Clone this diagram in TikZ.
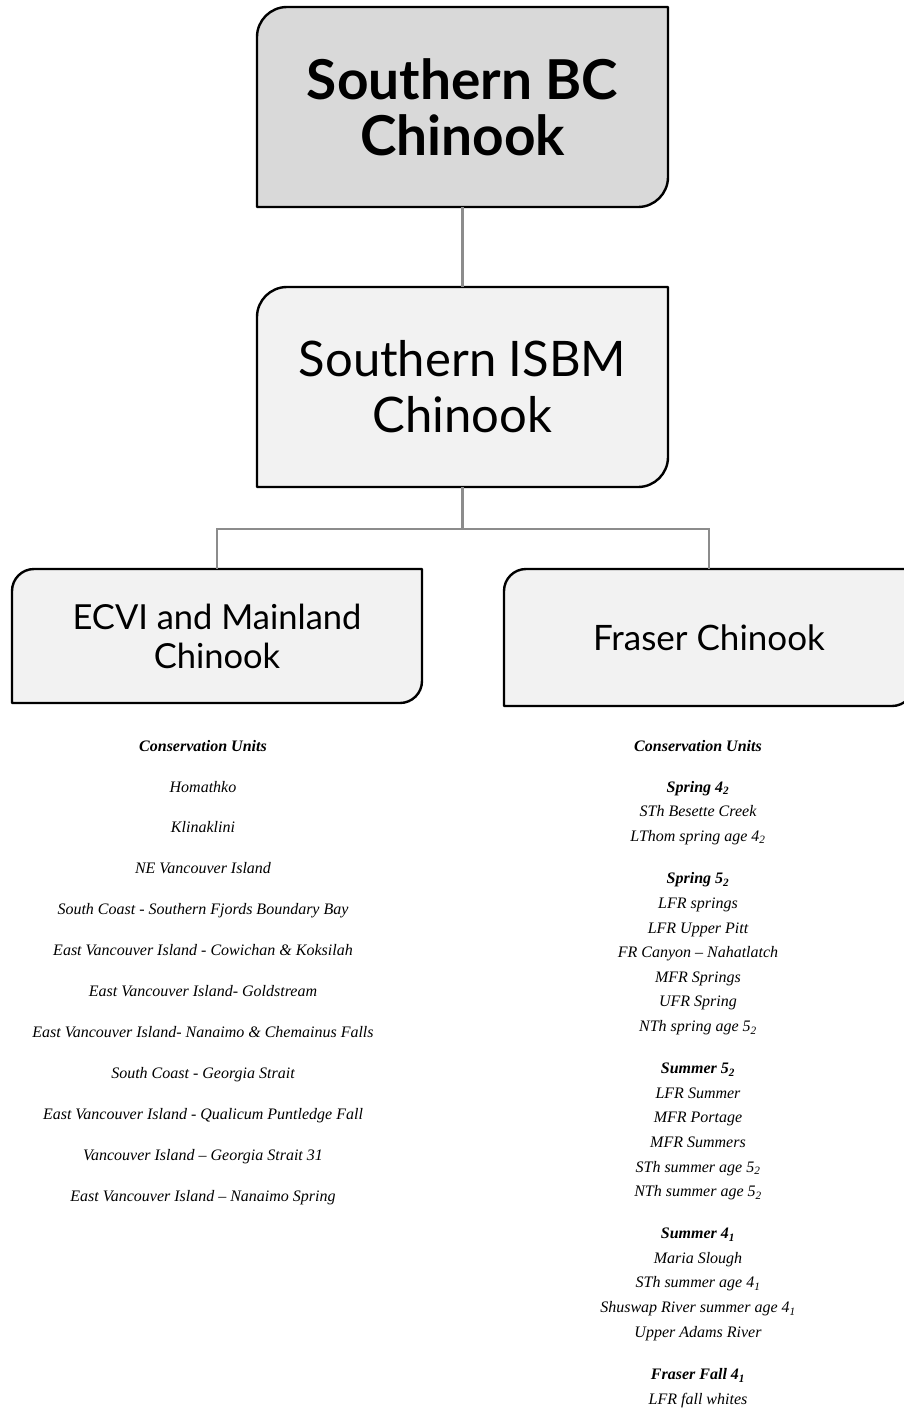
\documentclass[tikz,border=0pt]{standalone}
\usepackage{fontspec}
\setsansfont{Lato}
\usetikzlibrary{backgrounds,calc}
% serif italic for the unit lists
\newfontfamily\palfont[Ligatures=TeX]{Liberation Serif}
\definecolor{topgray}{HTML}{D9D9D9}
\definecolor{cardgray}{HTML}{F2F2F2}
\definecolor{linkgray}{HTML}{8C8C8C}
% card outline: rounded top-left and bottom-right corners only
\newcommand\cardoutline[3]{%
  \filldraw[fill=#3, draw=black, line width=2.4pt, line join=round]
    (#1.south west) -- ([yshift=-#2]#1.north west)
    arc[start angle=180, end angle=90, radius=#2]
    -- (#1.north east) -- ([yshift=#2]#1.south east)
    arc[start angle=0, end angle=-90, radius=#2] -- cycle;}
\begin{document}
\begin{tikzpicture}[x=1pt,y=1pt,
  card/.style={inner sep=0pt, outer sep=0pt, align=center},
  link/.style={draw=linkgray, line width=2.6pt},
  unitlist/.style={inner sep=0pt, outer sep=0pt, align=center, anchor=north}]
\useasboundingbox (0,0) rectangle (904,-1408);
\clip (0,0) rectangle (904,-1408);

% hierarchy cards
\node[card, minimum width=411pt, minimum height=200pt,
      font=\sffamily\bfseries\fontsize{55}{56}\selectfont]
  (bc) at (462.5,-107) {Southern BC\\Chinook};
\node[card, minimum width=411pt, minimum height=200pt,
      font=\sffamily\fontsize{49}{56}\selectfont]
  (isbm) at (462.5,-387) {Southern ISBM\\Chinook};
\node[card, minimum width=410pt, minimum height=134pt,
      font=\sffamily\fontsize{34.5}{39}\selectfont]
  (ecvi) at (217,-636) {ECVI and Mainland\\Chinook};
\node[card, minimum width=410pt, minimum height=137pt,
      font=\sffamily\fontsize{35}{39}\selectfont]
  (fraser) at (709,-637.5) {Fraser Chinook};

\begin{pgfonlayer}{background}
  \cardoutline{bc}{30pt}{topgray}
  \cardoutline{isbm}{30pt}{cardgray}
  \cardoutline{ecvi}{22pt}{cardgray}
  \cardoutline{fraser}{22pt}{cardgray}
\end{pgfonlayer}

% connectors
\coordinate (split) at ($(isbm.south)+(0,-42)$);
\draw[link] (bc.south) -- (isbm.north);
\draw[link] (isbm.south) -- (split) -| (ecvi.north);
\draw[link] (split) -| (fraser.north);

% conservation unit lists
\node[unitlist, font=\palfont\itshape\fontsize{16}{40.9}\selectfont]
  (ecvicu) at (203,-740) {%
  \textbf{Conservation Units}\\
  Homathko\\
  Klinaklini\\
  NE Vancouver Island\\
  South Coast - Southern Fjords Boundary Bay\\
  East Vancouver Island - Cowichan \& Koksilah\\
  East Vancouver Island- Goldstream\\
  East Vancouver Island- Nanaimo \& Chemainus Falls\\
  South Coast - Georgia Strait\\
  East Vancouver Island - Qualicum Puntledge Fall\\
  Vancouver Island -- Georgia Strait 31\\
  East Vancouver Island -- Nanaimo Spring};

\node[unitlist, font=\palfont\itshape\fontsize{16}{24.6}\selectfont]
  (frasercu) at (698,-740) {%
  \textbf{Conservation Units}\\[16.4pt]
  \textbf{Spring 4\textsubscript{2}}\\
  STh Besette Creek\\
  LThom spring age 4\textsubscript{2}\\[18pt]
  \textbf{Spring 5\textsubscript{2}}\\
  LFR springs\\
  LFR Upper Pitt\\
  FR Canyon -- Nahatlatch\\
  MFR Springs\\
  UFR Spring\\
  NTh spring age 5\textsubscript{2}\\[17.5pt]
  \textbf{Summer 5\textsubscript{2}}\\
  LFR Summer\\
  MFR Portage\\
  MFR Summers\\
  STh summer age 5\textsubscript{2}\\
  NTh summer age 5\textsubscript{2}\\[17.5pt]
  \textbf{Summer 4\textsubscript{1}}\\
  Maria Slough\\
  STh summer age 4\textsubscript{1}\\
  Shuswap River summer age 4\textsubscript{1}\\
  Upper Adams River\\[18pt]
  \textbf{Fraser Fall 4\textsubscript{1}}\\
  LFR fall whites};
\end{tikzpicture}
\end{document}
